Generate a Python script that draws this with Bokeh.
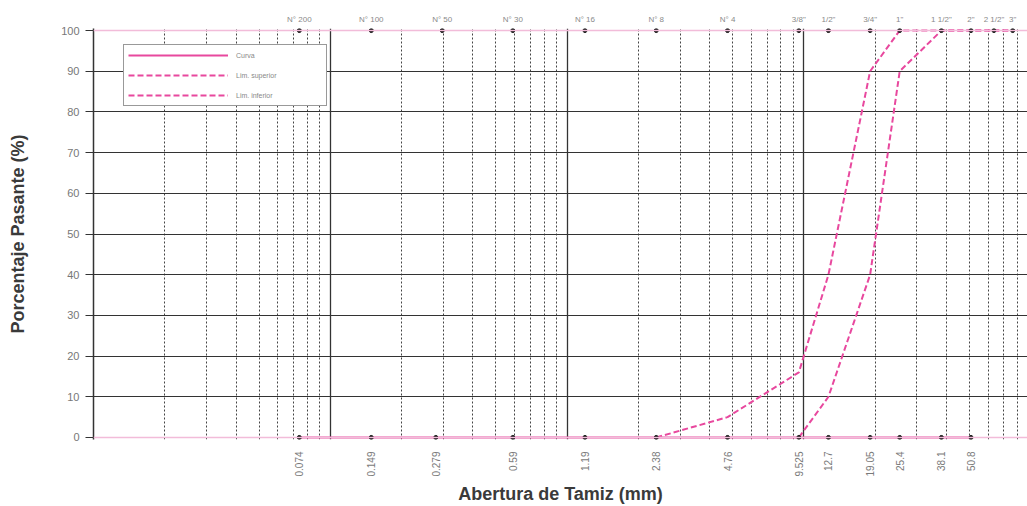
import math
from bokeh.plotting import figure
from bokeh.models import (Range1d, FixedTicker, Legend, LegendItem, LogAxis, Span)
from bokeh.embed import file_html
from bokeh.resources import INLINE

# ---------------- data ----------------
bottom_sizes = [0.074, 0.149, 0.279, 0.59, 1.19, 2.38, 4.76, 9.525, 12.7, 19.05, 25.4, 38.1, 50.8]
bottom_labels = ["0.074", "0.149", "0.279", "0.59", "1.19", "2.38", "4.76", "9.525",
                 "12.7", "19.05", "25.4", "38.1", "50.8"]
curva_pct = [0, 0, 0, 0, 0, 0, 0, 0, 0, 0, 0, 0, 0]

top_sizes = [0.074, 0.149, 0.297, 0.59, 1.19, 2.38, 4.76, 9.525, 12.7, 19.05, 25.4,
             38.1, 50.8, 63.5, 76.2]
top_labels = ["N° 200", "N° 100", "N° 50", "N° 30", "N° 16", "N° 8", "N° 4",
              '3/8"', '1/2"', '3/4"', '1"', '1 1/2"', '2"', '2 1/2"', '3"']
top_ref_pct = [100, 100, 100, 100, 100, 100, 100, 100, 100, 100, 100, 100, 100, 100, 100]

sup_sizes = [2.38, 4.76, 9.525, 12.7, 19.05, 25.4, 38.1, 50.8, 63.5, 76.2]
sup_pct = [0, 5, 16, 40, 90, 100, 100, 100, 100, 100]

inf_sizes = [9.525, 12.7, 19.05, 25.4, 38.1, 50.8, 63.5, 76.2]
inf_pct = [0, 10, 40, 90, 100, 100, 100, 100]

y_ticks = [0, 10, 20, 30, 40, 50, 60, 70, 80, 90, 100]

# ---------------- styling ----------------
PINK = "#e8489e"
LIGHT_PINK = "#f2bcd9"
GRID = "#333333"
FONT = "Liberation Sans"

p = figure(width=1027, height=506, x_axis_type="log",
           x_range=Range1d(0.01, 88), y_range=Range1d(-0.5, 100.5),
           min_border_left=93, min_border_right=0, min_border_top=28, min_border_bottom=67,
           output_backend="svg", toolbar_location=None)
p.outline_line_color = None
p.background_fill_color = "white"
p.border_fill_color = "white"

# grids
decades = [0.1, 1, 10]
minors = [m * 10 ** e for e in (-2, -1, 0, 1) for m in range(2, 10)]
p.xgrid.ticker = FixedTicker(ticks=decades, minor_ticks=minors)
p.xgrid.grid_line_color = GRID
p.xgrid.grid_line_width = 1.3
p.xgrid.minor_grid_line_color = "#444444"
p.xgrid.minor_grid_line_dash = "2 2"
p.xgrid.minor_grid_line_width = 1

p.ygrid.ticker = FixedTicker(ticks=y_ticks[1:-1])
p.ygrid.grid_line_color = GRID
p.ygrid.grid_line_width = 1.2

# frame top/bottom lines
p.add_layout(Span(location=y_ticks[-1], dimension="width", line_color=LIGHT_PINK, line_width=1.5))
p.add_layout(Span(location=y_ticks[0], dimension="width", line_color=LIGHT_PINK, line_width=1.5))

# y axis
ya = p.yaxis[0]
ya.ticker = FixedTicker(ticks=y_ticks)
ya.major_tick_out = 8
ya.major_tick_in = 0
ya.minor_tick_out = 0
ya.minor_tick_in = 0
ya.axis_line_color = GRID
ya.axis_line_width = 1.5
ya.major_tick_line_color = GRID
ya.major_label_text_color = "#777777"
ya.major_label_text_font = FONT
ya.major_label_text_font_size = "11px"
ya.major_label_standoff = 6
ya.axis_label = "Porcentaje Pasante (%)"
ya.axis_label_text_font = FONT
ya.axis_label_text_font_style = "bold"
ya.axis_label_text_font_size = "18px"
ya.axis_label_text_color = "#3a3a3a"
ya.axis_label_standoff = 30

# bottom x axis: sieve openings (mm), vertical labels, plus title
xa = p.xaxis[0]
xa.ticker = FixedTicker(ticks=bottom_sizes)
xa.major_label_overrides = dict(zip(bottom_sizes, bottom_labels))
xa.major_label_orientation = math.pi / 2
xa.major_tick_out = 0
xa.major_tick_in = 0
xa.minor_tick_out = 0
xa.minor_tick_in = 0
xa.axis_line_color = None
xa.major_label_text_font = FONT
xa.major_label_text_font_size = "10px"
xa.major_label_text_color = "#7a7a7a"
xa.major_label_standoff = 12
xa.axis_label = "Abertura de Tamiz (mm)"
xa.axis_label_text_font = FONT
xa.axis_label_text_font_style = "bold"
xa.axis_label_text_font_size = "18px"
xa.axis_label_text_color = "#3a3a3a"
xa.axis_label_standoff = 4

# top x axis: sieve names
ta = LogAxis(ticker=FixedTicker(ticks=top_sizes),
             major_label_overrides=dict(zip(top_sizes, top_labels)),
             major_tick_out=0, major_tick_in=0, minor_tick_out=0, minor_tick_in=0,
             axis_line_color=None, major_label_text_font=FONT,
             major_label_text_font_size="8px", major_label_text_color="#8a8a8a",
             major_label_standoff=5)
p.add_layout(ta, "above")

# series
r_curva = p.line(bottom_sizes, curva_pct, line_color=PINK, line_width=2)
r_sup = p.line(sup_sizes, sup_pct, line_color=PINK, line_width=2, line_dash="6 3")
r_inf = p.line(inf_sizes, inf_pct, line_color=PINK, line_width=2, line_dash="6 3")
p.scatter(bottom_sizes, curva_pct, size=4, color="#111111")
p.scatter(top_sizes, top_ref_pct, size=4, color="#111111")

# legend
legend = Legend(items=[LegendItem(label="Curva", renderers=[r_curva]),
                       LegendItem(label="Lim. superior", renderers=[r_sup]),
                       LegendItem(label="Lim. inferior", renderers=[r_inf])],
                location=(30, 333), padding=4, spacing=8, margin=0,
                glyph_width=100, glyph_height=12, label_height=12, label_width=86,
                label_standoff=8, label_text_font=FONT, label_text_font_size="7px",
                label_text_color="#888888", border_line_color="#333333",
                border_line_width=1.5, background_fill_color="white",
                background_fill_alpha=1.0)
p.add_layout(legend)

open("out.html", "w").write(file_html(p, INLINE))
